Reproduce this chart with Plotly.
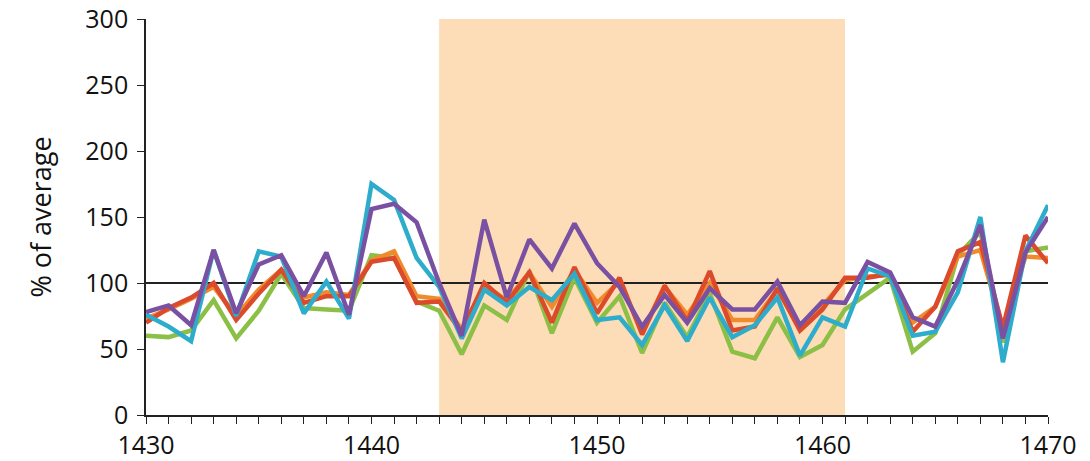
import plotly.graph_objects as go

years = list(range(1430, 1471))

red =    [70, 81, 89, 100, 72, 92, 110, 85, 90, 90, 116, 119, 85, 86, 63, 100, 85, 108, 70, 112,
          77, 104, 61, 98, 71, 109, 64, 67, 96, 64, 80, 104, 104, 107, 63, 82, 124, 131, 66, 136, 115]
orange = [73, 80, 88, 97, 75, 95, 110, 89, 93, 91, 117, 124, 90, 88, 65, 98, 87, 108, 82, 110,
          85, 101, 63, 97, 76, 100, 72, 72, 95, 66, 83, 102, 105, 106, 70, 82, 120, 125, 66, 120, 119]
green =  [60, 59, 64, 87, 58, 79, 107, 81, 80, 79, 121, 119, 86, 79, 46, 83, 72, 109, 62, 104,
          70, 90, 47, 85, 59, 92, 48, 43, 74, 44, 53, 80, 92, 104, 48, 62, 121, 139, 55, 124, 127]
cyan =   [76, 67, 56, 125, 75, 124, 120, 77, 101, 73, 175, 163, 119, 97, 58, 95, 83, 97, 87, 107,
          72, 74, 53, 83, 56, 89, 59, 68, 89, 45, 74, 67, 111, 105, 60, 63, 93, 150, 40, 124, 159]
purple = [78, 83, 68, 125, 77, 114, 121, 90, 123, 76, 156, 160, 146, 100, 60, 148, 89, 133, 111, 145,
          115, 97, 67, 91, 70, 96, 80, 80, 101, 68, 86, 85, 116, 108, 74, 67, 102, 144, 58, 123, 150]

series = [
    ("Series 3", green, "#8cbf45"),
    ("Series 2", orange, "#f08a2c"),
    ("Series 1", red, "#dc4a2c"),
    ("Series 4", cyan, "#2daccb"),
    ("Series 5", purple, "#7a51a2"),
]

shade_start, shade_end = 1443, 1461
ref_level = 100

fig = go.Figure()
for name, vals, col in series:
    fig.add_trace(go.Scatter(x=years, y=vals, mode="lines", name=name,
                             line=dict(color=col, width=4.5), showlegend=False))

fig.add_shape(type="rect", x0=shade_start, x1=shade_end, y0=0, y1=300,
              xref="x", yref="y", fillcolor="#fddcb8", line=dict(width=0), layer="below")
fig.add_shape(type="line", x0=1430, x1=1470, y0=ref_level, y1=ref_level,
              xref="x", yref="y", line=dict(color="#222222", width=1.8), layer="below")

font_family = "Open Sans"
fig.update_layout(
    width=1090, height=461,
    margin=dict(l=146, r=42, t=19, b=46),
    paper_bgcolor="white", plot_bgcolor="white",
    font=dict(family=font_family, size=25, color="#111111"),
    xaxis=dict(range=[1430, 1470], tickvals=[1430, 1440, 1450, 1460, 1470],
               ticks="outside", ticklen=7, tickwidth=1.3, tickcolor="#222",
               minor=dict(dtick=1, tick0=1430, ticks="outside", ticklen=7, tickwidth=1.3, tickcolor="#222"),
               showgrid=False, zeroline=False, showline=True, linecolor="#222", linewidth=1.6,
               tickfont=dict(size=25), ticklabelstandoff=0, automargin=False),
    yaxis=dict(range=[0, 300], tickvals=[0, 50, 100, 150, 200, 250, 300],
               ticks="outside", ticklen=7, tickwidth=1.3, tickcolor="#222",
               showgrid=False, zeroline=False, showline=True, linecolor="#222", linewidth=1.6,
               title=dict(text="% of average", font=dict(size=27), standoff=26),
               tickfont=dict(size=25), ticklabelstandoff=4, automargin=False),
)

fig.write_html("out.html")
